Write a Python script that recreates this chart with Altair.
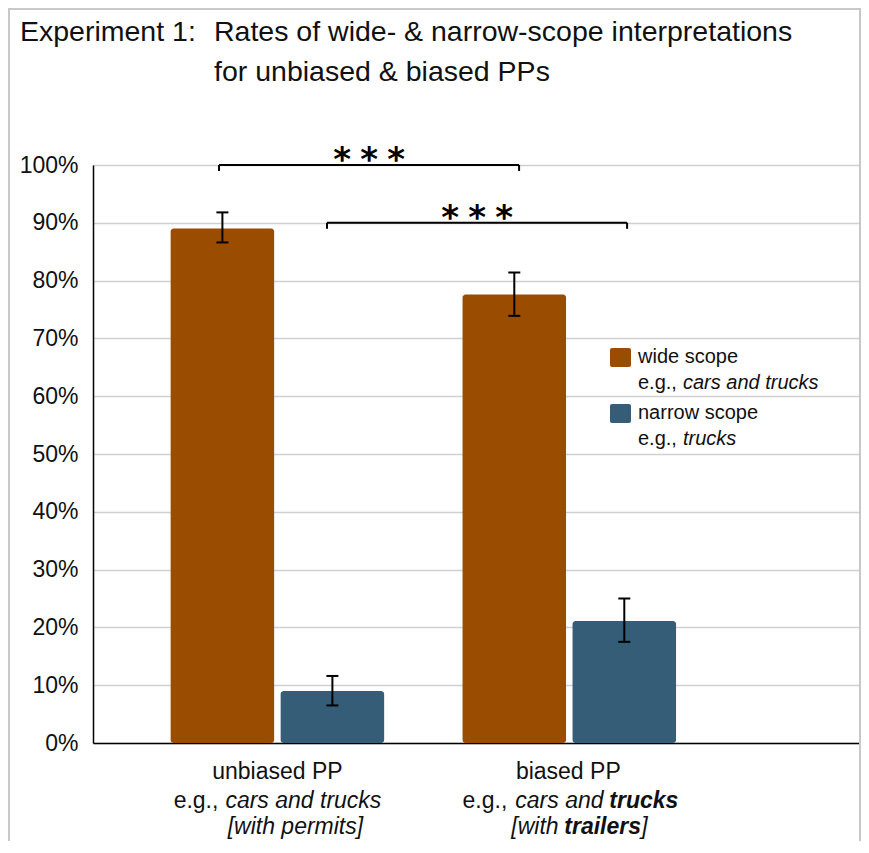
import altair as alt
import pandas as pd

# ---------------- data ----------------
categories = ["unbiased PP", "biased PP"]
series_names = ["wide scope", "narrow scope"]
series_examples = ["cars and trucks", "trucks"]
series_colors = ["#9a4d00", "#365d77"]

wide_values = [0.890, 0.776]
wide_low = [0.866, 0.739]
wide_high = [0.918, 0.814]
narrow_values = [0.090, 0.211]
narrow_low = [0.065, 0.175]
narrow_high = [0.116, 0.250]

y_ticks = [0.0, 0.1, 0.2, 0.3, 0.4, 0.5, 0.6, 0.7, 0.8, 0.9, 1.0]

# significance brackets (x in group units: group 1 = 1, group 2 = 2)
bracket_level = [1.0, 0.9]
bracket_start = [0.800, 1.170]
bracket_end = [1.828, 2.198]
bracket_mark = "*"

title_lines = ["Experiment 1:", "Rates of wide- & narrow-scope interpretations",
               "for unbiased & biased PPs"]

# x-label text segments: (group, line, text, style)
label_segments = [
    (1, 1, "unbiased PP", "regular"),
    (1, 2, "e.g.,", "regular"),
    (1, 2, "cars and trucks", "italic"),
    (1, 3, "[with permits]", "italic"),
    (2, 1, "biased PP", "regular"),
    (2, 2, "e.g.,", "regular"),
    (2, 2, "cars and", "italic"),
    (2, 2, "trucks", "bolditalic"),
    (2, 3, "[with", "italic"),
    (2, 3, "trailers", "bolditalic"),
    (2, 3, "]", "italic"),
]
# layout only: anchor (px from group centre) and alignment of each segment
label_seg_dx = [0, -59, -52, 18, -1, -62, -54, 40, -58, -5, 72]
label_seg_align = ["center", "right", "left", "center", "center", "right", "left", "left",
                   "left", "left", "left"]

# ---------------- layout ----------------
W, H = 768, 578
PX = 291.9                      # px per group unit
X0 = 1 - 184.4 / PX
X_DOMAIN = [X0, X0 + W / PX]
OFF = 55 / PX
HALF = 51.75 / PX
CAP = 6 / PX
FONT = "Liberation Sans"
TXT = "#111111"

rows = []
for i, cat in enumerate(categories):
    g = i + 1
    for s, vals, lo, hi, sign in [
        (series_names[0], wide_values, wide_low, wide_high, -1),
        (series_names[1], narrow_values, narrow_low, narrow_high, 1),
    ]:
        xc = g + sign * OFF
        rows.append(dict(category=cat, series=s, value=vals[i], low=lo[i], high=hi[i],
                         xc=xc, xl=xc - HALF, xr=xc + HALF,
                         cl=xc - CAP, cr=xc + CAP, zero=0.0))
bars_df = pd.DataFrame(rows)

xscale = alt.Scale(domain=X_DOMAIN, nice=False, zero=False)
yscale = alt.Scale(domain=[0, 1], nice=False)
xaxis = alt.Axis(title=None, labels=False, ticks=False, grid=False,
                 domainColor="#000000", domainWidth=1.5)
yaxis = alt.Axis(title=None, values=y_ticks, format=".0%", ticks=False,
                 grid=True, gridColor="#d0d0d0", gridWidth=1.5,
                 domainColor="#000000", domainWidth=1.5,
                 labelFont=FONT, labelFontSize=23, labelColor=TXT, labelPadding=15)

base = alt.Chart(bars_df)

bars = base.mark_rect(cornerRadius=3).encode(
    x=alt.X("xl:Q", scale=xscale, axis=xaxis),
    x2="xr:Q",
    y=alt.Y("value:Q", scale=yscale, axis=yaxis),
    y2="zero:Q",
    color=alt.Color("series:N", scale=alt.Scale(domain=series_names, range=series_colors),
                    legend=None),
)

err = base.mark_rule(color="#000000", strokeWidth=2).encode(
    x=alt.X("xc:Q", scale=xscale), y=alt.Y("low:Q", scale=yscale), y2="high:Q")
cap_top = base.mark_rule(color="#000000", strokeWidth=2).encode(
    x=alt.X("cl:Q", scale=xscale), x2="cr:Q", y=alt.Y("high:Q", scale=yscale))
cap_bot = base.mark_rule(color="#000000", strokeWidth=2).encode(
    x=alt.X("cl:Q", scale=xscale), x2="cr:Q", y=alt.Y("low:Q", scale=yscale))

# brackets
br_df = pd.DataFrame(dict(level=bracket_level, x1=bracket_start, x2=bracket_end))
br_df["mid"] = (br_df.x1 + br_df.x2) / 2
br_df["tip"] = br_df.level - 6 / H
br_df["label"] = bracket_mark
br_ends = pd.concat([
    pd.DataFrame(dict(x=br_df.x1, level=br_df.level, tip=br_df.tip)),
    pd.DataFrame(dict(x=br_df.x2, level=br_df.level, tip=br_df.tip)),
])
br_h = alt.Chart(br_df).mark_rule(color="#000000", strokeWidth=2).encode(
    x=alt.X("x1:Q", scale=xscale), x2="x2:Q", y=alt.Y("level:Q", scale=yscale))
br_v = alt.Chart(br_ends).mark_rule(color="#000000", strokeWidth=2).encode(
    x=alt.X("x:Q", scale=xscale), y=alt.Y("level:Q", scale=yscale), y2="tip:Q")
star_layers = [
    alt.Chart(br_df).mark_text(font="DejaVu Sans", fontWeight="bold", fontSize=34,
                               color="#000000", dx=d, dy=-4, baseline="middle").encode(
        x=alt.X("mid:Q", scale=xscale), y=alt.Y("level:Q", scale=yscale), text="label:N")
    for d in (-27, 0, 27)
]

# x labels
seg_df = pd.DataFrame(label_segments, columns=["group", "line", "text", "style"])
seg_df["x"] = seg_df.group + pd.Series(label_seg_dx) / PX
seg_df["align"] = label_seg_align
line_y = {1: 607, 2: 636, 3: 662}
styles = {"regular": dict(), "italic": dict(fontStyle="italic"),
          "bolditalic": dict(fontStyle="italic", fontWeight="bold")}
label_layers = []
for ln, yv in line_y.items():
    for st, kw in styles.items():
        for al in ("left", "center", "right"):
            sub = seg_df[(seg_df.line == ln) & (seg_df["style"] == st) & (seg_df["align"] == al)]
            if len(sub) == 0:
                continue
            label_layers.append(
                alt.Chart(sub).mark_text(font=FONT, fontSize=23, color=TXT, align=al,
                                         baseline="middle", **kw).encode(
                    x=alt.X("x:Q", scale=xscale), y=alt.value(yv), text="text:N"))

# legend
one = alt.Data(values=[{"a": 1}])
legend_layers = []
for i, (name, ex, col) in enumerate(zip(series_names, series_examples, series_colors)):
    top = 183 + 56 * i
    legend_layers.append(alt.Chart(one).mark_rect(cornerRadius=2, color=col).encode(
        x=alt.value(517), x2=alt.value(538), y=alt.value(top), y2=alt.value(top + 19)))
    legend_layers.append(alt.Chart(one).mark_text(
        font=FONT, fontSize=20, color=TXT, align="left", baseline="middle", text=name).encode(
        x=alt.value(545), y=alt.value(top + 9)))
    legend_layers.append(alt.Chart(one).mark_text(
        font=FONT, fontSize=20, color=TXT, align="left", baseline="middle", text="e.g.,").encode(
        x=alt.value(545), y=alt.value(top + 35)))
    legend_layers.append(alt.Chart(one).mark_text(
        font=FONT, fontSize=20, color=TXT, align="left", baseline="middle", fontStyle="italic",
        text=ex).encode(x=alt.value(590), y=alt.value(top + 35)))

# title
title_layers = [
    alt.Chart(one).mark_text(font=FONT, fontSize=28.5, color=TXT, align="left",
                             baseline="middle", text=title_lines[0]).encode(
        x=alt.value(-73), y=alt.value(-133)),
    alt.Chart(one).mark_text(font=FONT, fontSize=28.5, color=TXT, align="left",
                             baseline="middle", text=title_lines[1]).encode(
        x=alt.value(121), y=alt.value(-133)),
    alt.Chart(one).mark_text(font=FONT, fontSize=28.5, color=TXT, align="left",
                             baseline="middle", text=title_lines[2]).encode(
        x=alt.value(121), y=alt.value(-93)),
]

frame = alt.Chart(one).mark_rect(fillOpacity=0, stroke="#c8c8c8", strokeWidth=2).encode(
    x=alt.value(-84), x2=alt.value(W - 1), y=alt.value(-156), y2=alt.value(720))

chart = alt.layer(
    frame, bars, err, cap_top, cap_bot, br_h, br_v, *star_layers,
    *label_layers, *legend_layers, *title_layers,
).properties(
    width=W, height=H,
    autosize=alt.AutoSizeParams(type="none"),
    padding={"left": 85, "top": 157, "right": 0, "bottom": 98},
).configure_view(stroke=None).configure(background="white")

chart.save("out.html", embed_options={"renderer": "svg", "actions": False})
